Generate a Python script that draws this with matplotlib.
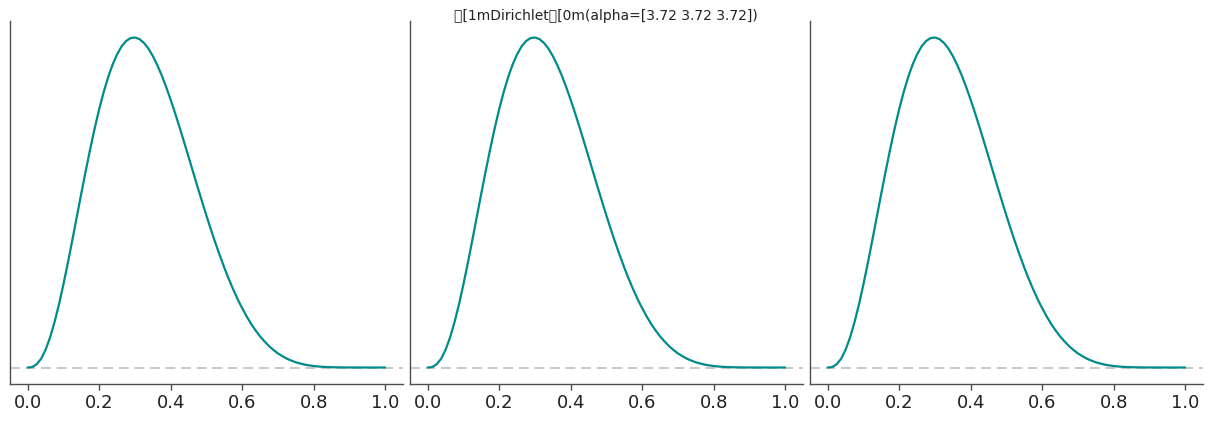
import matplotlib
matplotlib.use("Agg")
import matplotlib.pyplot as plt

# Values (marginal densities, identical in each panel)
x_vals = [0.0, 0.0125, 0.025, 0.0375, 0.05, 0.0625, 0.075, 0.0875, 0.1, 0.1125,
          0.125, 0.1375, 0.15, 0.1625, 0.175, 0.1875, 0.2, 0.2125, 0.225, 0.2375,
          0.25, 0.2625, 0.275, 0.2875, 0.3, 0.3125, 0.325, 0.3375, 0.35, 0.3625,
          0.375, 0.3875, 0.4, 0.4125, 0.425, 0.4375, 0.45, 0.4625, 0.475, 0.4875,
          0.5, 0.5125, 0.525, 0.5375, 0.55, 0.5625, 0.575, 0.5875, 0.6, 0.6125,
          0.625, 0.6375, 0.65, 0.6625, 0.675, 0.6875, 0.7, 0.7125, 0.725, 0.7375,
          0.75, 0.7625, 0.775, 0.7875, 0.8, 0.8125, 0.825, 0.8375, 0.85, 0.8625,
          0.875, 0.8875, 0.9, 0.9125, 0.925, 0.9375, 0.95, 0.9625, 0.975, 0.9875, 1.0]
density = [0.0, 0.0046, 0.028, 0.077, 0.155, 0.261, 0.393, 0.547, 0.720, 0.906,
           1.101, 1.301, 1.500, 1.695, 1.882, 2.058, 2.220, 2.366, 2.493, 2.601,
           2.688, 2.755, 2.801, 2.826, 2.831, 2.817, 2.784, 2.736, 2.671, 2.593,
           2.503, 2.403, 2.294, 2.178, 2.057, 1.932, 1.805, 1.677, 1.549, 1.424,
           1.301, 1.182, 1.068, 0.959, 0.855, 0.758, 0.668, 0.584, 0.508, 0.438,
           0.374, 0.318, 0.267, 0.223, 0.184, 0.150, 0.121, 0.097, 0.076, 0.059,
           0.045, 0.034, 0.025, 0.018, 0.0128, 0.0088, 0.0059, 0.0038, 0.0024, 0.0015,
           0.0009, 0.0005, 0.0003, 0.0002, 0.0001, 0.0, 0.0, 0.0, 0.0, 0.0, 0.0]
n_panels = 3
xtick_vals = [0.0, 0.2, 0.4, 0.6, 0.8, 1.0]
xtick_labels = ["0.0", "0.2", "0.4", "0.6", "0.8", "1.0"]
title = "\x1b[1mDirichlet\x1b[0m(alpha=[3.72 3.72 3.72])"

W, H = 1211, 423
fig = plt.figure(figsize=(W / 100, H / 100), dpi=100)

ax_left0 = 10
ax_w = 393
gap = 7
ax_top = 21
ax_bottom = 384

line_color = "#008b8b"
spine_color = "#4d4d4d"

for i in range(n_panels):
    left = ax_left0 + i * (ax_w + gap)
    ax = fig.add_axes([left / W, 1 - ax_bottom / H, ax_w / W, (ax_bottom - ax_top) / H])
    ax.plot(x_vals, density, color=line_color, lw=1.6, zorder=3,
            solid_joinstyle="round", solid_capstyle="round")
    ax.axhline(0, color="#c8c8c8", ls=(0, (5, 3)), lw=1.4, zorder=1)
    ax.set_xticks(xtick_vals)
    ax.set_xticklabels(xtick_labels)
    ax.set_yticks([])
    ax.margins(x=0.05, y=0.05)
    for s in ["top", "right"]:
        ax.spines[s].set_visible(False)
    for s in ["left", "bottom"]:
        ax.spines[s].set_color(spine_color)
        ax.spines[s].set_linewidth(1.0)
    ax.tick_params(axis="x", labelsize=13, colors="#222222", length=4, width=1,
                   color=spine_color, pad=3.5)

fig.suptitle(title, y=1 - 16 / H, va="center", fontsize=10, color="#222222")

fig.savefig("out.png", dpi=100)
